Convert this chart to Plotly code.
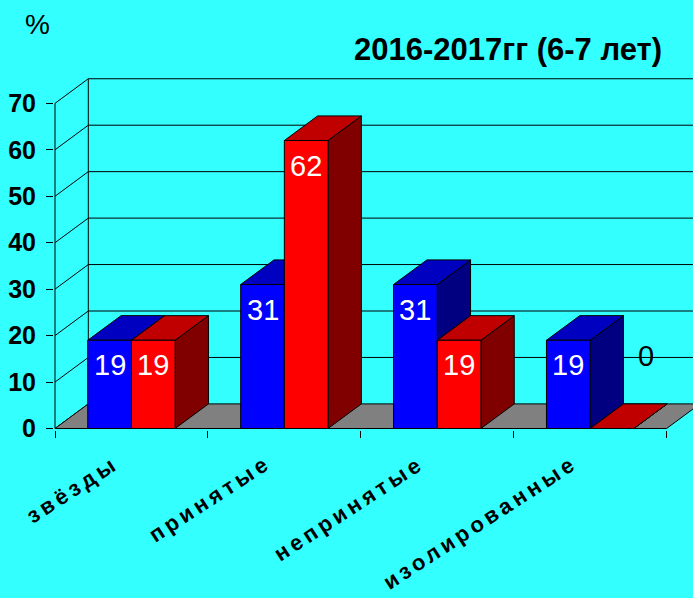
import plotly.graph_objects as go

# ---------------- data ----------------
categories = ["звёзды", "принятые", "непринятые", "изолированные"]
series_blue = [19, 31, 31, 19]
series_red = [19, 62, 19, 0]
y_ticks = [0, 10, 20, 30, 40, 50, 60, 70]
title_text = "2016-2017гг (6-7 лет)"
unit_text = "%"

# ---------------- style / geometry ----------------
W, H = 693, 598
BG = "#33FFFF"
X_PX = 152.9          # px per category unit
Y_PX = 4.645          # px per value unit
DX = 33.3 / X_PX      # depth offset (oblique projection), x units
DY = 24.6 / Y_PX      # depth offset, value units
BAR_W = 1 / 3.5       # gap width 150 %
ML, MB, MT = 54, 168, 56
X_START = -0.5 - 1 / X_PX
X_END = X_START + (W - ML) / X_PX
Y_START = -1.5 / Y_PX
Y_END = Y_START + (H - MT - MB) / Y_PX

BLUE = dict(front="#0000FF", top="#0000C0", side="#000080")
RED = dict(front="#FF0000", top="#C00000", side="#800000")
FLOOR = "#808080"
FONT = "Liberation Sans, Arial, sans-serif"

fig = go.Figure()


def poly(xs, ys, color):
    fig.add_trace(go.Scatter(
        x=list(xs) + [xs[0]], y=list(ys) + [ys[0]], mode="lines",
        fill="toself", fillcolor=color, line=dict(color="black", width=1),
        hoverinfo="skip", showlegend=False))


def lines(xs, ys, width=1):
    fig.add_trace(go.Scatter(x=xs, y=ys, mode="lines",
                             line=dict(color="black", width=width),
                             hoverinfo="skip", showlegend=False))


x_left = -0.5
x_right = len(categories) - 0.5
top = max(y_ticks)

# back wall gridlines
gx, gy = [], []
for v in y_ticks[1:]:
    gx += [x_left + DX, x_right + DX + 1, None]
    gy += [v + DY, v + DY, None]
lines(gx, gy)

# side wall diagonals
dx_, dy_ = [], []
for v in y_ticks:
    dx_ += [x_left, x_left + DX, None]
    dy_ += [v, v + DY, None]
lines(dx_, dy_)

# back wall vertical edge and front value axis
lines([x_left + DX, x_left + DX], [DY, top + DY])
lines([x_left, x_left], [0, top])

# floor
poly([x_left, x_right, x_right + DX, x_left + DX], [0, 0, DY, DY], FLOOR)


def box(xl, xr, v, colors):
    poly([xr, xr + DX, xr + DX, xr], [0, DY, v + DY, v], colors["side"])
    poly([xl, xr, xr + DX, xl + DX], [v, v, v + DY, v + DY], colors["top"])
    if v > 0:
        poly([xl, xr, xr, xl], [0, 0, v, v], colors["front"])


annotations = []
for i, cat in enumerate(categories):
    for k, (vals, cols) in enumerate([(series_blue, BLUE), (series_red, RED)]):
        v = vals[i]
        xl = i - BAR_W + k * BAR_W
        xr = xl + BAR_W
        box(xl, xr, v, cols)
        if v > 0:
            annotations.append(dict(
                x=(xl + xr) / 2, y=v, xref="x", yref="y", text=str(v),
                showarrow=False, yshift=-25, xanchor="center", yanchor="middle",
                font=dict(family=FONT, size=29, color="white")))
        else:
            annotations.append(dict(
                x=(xl + xr) / 2, y=v, xref="x", yref="y", text=str(v),
                showarrow=False, xshift=34, yshift=73, xanchor="center", yanchor="middle",
                font=dict(family=FONT, size=29, color="black")))

# category labels
for i, cat in enumerate(categories):
    annotations.append(dict(
        x=i, y=0, xref="x", yref="y",
        text=f'<span style="letter-spacing:4px"><b>{cat}</b></span>',
        showarrow=False, textangle=-33, xanchor="right", yanchor="top",
        xshift=-6, yshift=-19,
        font=dict(family=FONT, size=22, color="black", weight="bold")))

annotations.append(dict(
    x=(37 - ML) / (W - ML), y=(H - MB - 25) / (H - MT - MB),
    xref="paper", yref="paper", text=unit_text, showarrow=False,
    xanchor="center", yanchor="middle",
    font=dict(family=FONT, size=28, color="black")))

fig.update_layout(
    width=W, height=H,
    paper_bgcolor=BG, plot_bgcolor=BG,
    margin=dict(l=ML, r=0, t=MT, b=MB, pad=0),
    showlegend=False,
    title=dict(text=f"<b>{title_text}</b>", x=(508 - ML) / (W - ML), y=1 - 49 / H,
               xanchor="center", yanchor="middle", xref="paper", yref="container",
               font=dict(family=FONT, size=31, color="black")),
    annotations=annotations,
    xaxis=dict(range=[X_START, X_END], showgrid=False, zeroline=False,
               showline=False, tickmode="array",
               tickvals=[i - 0.5 for i in range(len(categories) + 1)],
               ticks="outside", ticklen=7, tickwidth=1, tickcolor="black",
               showticklabels=False, fixedrange=True),
    yaxis=dict(range=[Y_START, Y_END], showgrid=False, zeroline=False,
               showline=False, tickmode="array", tickvals=y_ticks,
               ticktext=[f"<b>{t}</b>" for t in y_ticks],
               ticks="outside", ticklen=7, tickwidth=1, tickcolor="black",
               ticklabelstandoff=5,
               tickfont=dict(family=FONT, size=25, color="black"),
               fixedrange=True),
)

fig.write_html(
    "out.html",
    config={"displayModeBar": False},
    post_script="document.body.style.margin='0';document.body.style.overflow='hidden';"
                "document.body.style.background='" + BG + "';",
)
